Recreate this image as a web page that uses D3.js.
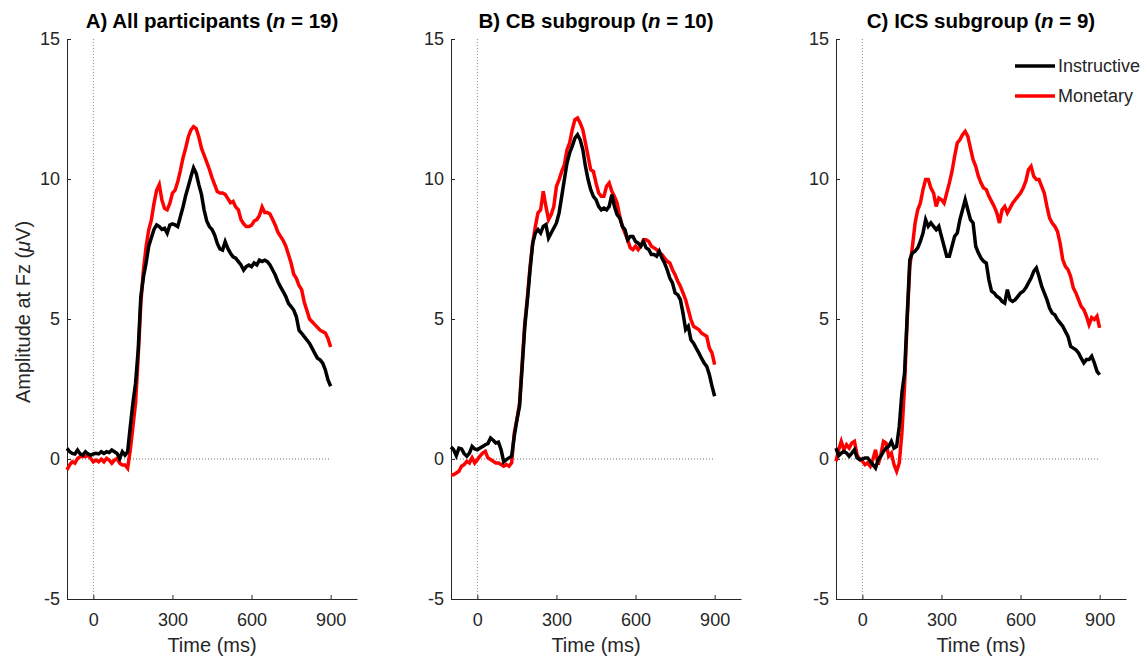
<!DOCTYPE html>
<html>
<head>
<meta charset="utf-8">
<script src="https://cdn.jsdelivr.net/npm/d3@7"></script>
<style>
  body { margin: 0; background: #fff; }
  svg { display: block; }
  text { font-family: "Liberation Sans", Arial, Helvetica, sans-serif; }
</style>
</head>
<body>
<div id="chart"></div>
<script>
// sample grid (ms), one value every 10 ms
const sampleTimes = d3.range(-100, 901, 10);

// A) all participants
const instrA = [
  0.38, 0.26, 0.20, 0.18, 0.32, 0.18, 0.14, 0.26, 0.18, 0.14,
  0.18, 0.20, 0.18, 0.26, 0.20, 0.26, 0.23, 0.32, 0.26, 0.20,
  0.02, 0.26, 0.14, 0.26, 1.15, 2.0, 2.7, 3.9, 5.8, 6.5,
  7.0, 7.6, 7.9, 8.2, 8.36, 8.3, 8.2, 8.24, 8.06, 8.36,
  8.4, 8.36, 8.3, 8.65, 9.0, 9.4, 9.73, 10.08, 10.4, 10.2,
  9.8, 9.45, 8.9, 8.5, 8.3, 8.2, 8.0, 7.7, 7.5, 7.46,
  7.76, 7.52, 7.35, 7.22, 7.17, 7.05, 6.93, 6.75, 6.87, 6.93,
  6.87, 7.0, 6.93, 7.1, 7.05, 7.1, 7.05, 6.93, 6.75, 6.57,
  6.33, 6.15, 5.98, 5.8, 5.56, 5.44, 5.32, 5.08, 4.6, 4.49,
  4.37, 4.25, 4.13, 3.95, 3.77, 3.6, 3.54, 3.42, 3.18, 2.82,
  2.6
];
const monA = [
  -0.39, -0.21, -0.10, -0.15, 0.02, 0.08, 0.10, 0.08, 0.14, 0.02,
  -0.10, -0.04, -0.10, -0.01, -0.10, 0.02, -0.04, -0.15, -0.04, 0.02,
  -0.15, -0.21, -0.21, -0.33, 0.32, 1.15, 2.0, 3.65, 5.56, 6.75,
  7.58, 8.18, 8.54, 9.13, 9.6, 9.8, 9.25, 8.95, 8.9, 9.13,
  9.5, 9.6, 9.9, 10.3, 10.75, 11.1, 11.5, 11.75, 11.87, 11.8,
  11.5, 11.1, 10.85, 10.6, 10.35, 10.05, 9.8, 9.55, 9.5, 9.5,
  9.45, 9.3, 9.15, 9.2, 9.0, 8.9, 8.55, 8.4, 8.3, 8.3,
  8.35, 8.5, 8.55, 8.7, 9.0, 8.8, 8.8, 8.75, 8.55, 8.35,
  8.1, 7.95, 7.8, 7.6, 7.3, 7.0, 6.6, 6.45, 6.2, 6.05,
  5.6, 5.3, 5.0, 4.9, 4.8, 4.7, 4.6, 4.55, 4.5, 4.3,
  4.0
];

// B) CB subgroup
const instrB = [
  0.43, 0.33, 0.12, 0.39, 0.36, 0.19, 0.10, 0.21, 0.45, 0.36,
  0.33, 0.39, 0.45, 0.51, 0.55, 0.75, 0.67, 0.57, 0.60, 0.33,
  -0.10, -0.02, 0.04, 0.10, 0.81, 1.4, 1.88, 3.3, 4.74, 5.69,
  6.76, 7.71, 8.07, 8.19, 8.07, 8.31, 8.37, 7.89, 8.07, 8.25,
  8.43, 8.79, 9.38, 9.98, 10.57, 10.93, 11.17, 11.46, 11.58, 11.4,
  11.05, 10.45, 9.98, 9.62, 9.38, 9.26, 9.02, 8.9, 8.96, 8.9,
  9.02, 9.44, 9.02, 8.73, 8.61, 8.31, 8.19, 7.83, 7.95, 7.95,
  7.77, 7.71, 7.6, 7.77, 7.54, 7.48, 7.3, 7.3, 7.24, 7.42,
  7.18, 7.0, 6.76, 6.46, 6.29, 5.93, 5.87, 5.69, 5.21, 4.62,
  4.74, 4.26, 4.14, 3.96, 3.79, 3.6, 3.43, 3.31, 3.01, 2.6,
  2.24
];
const monB = [
  -0.56, -0.56, -0.50, -0.44, -0.26, -0.20, -0.08, -0.14, 0.04, -0.14,
  -0.02, 0.10, 0.21, 0.27, 0.04, -0.02, -0.08, -0.14, -0.14, -0.20,
  -0.26, -0.20, -0.26, -0.14, 0.93, 1.4, 2.0, 3.43, 4.86, 5.8,
  6.88, 7.71, 8.31, 8.79, 8.9, 9.56, 9.02, 8.55, 8.73, 9.02,
  9.74, 9.98, 10.27, 10.51, 11.05, 11.29, 11.76, 12.12, 12.18, 12.0,
  11.76, 11.29, 10.81, 10.33, 10.27, 9.86, 9.5, 9.38, 9.38, 9.74,
  9.86, 9.56, 9.38, 9.14, 8.67, 8.31, 8.07, 7.83, 7.54, 7.48,
  7.6, 7.48, 7.6, 7.83, 7.83, 7.77, 7.6, 7.54, 7.48, 7.36,
  7.3, 7.18, 7.06, 7.0, 6.76, 6.58, 6.35, 6.17, 5.93, 5.69,
  5.33, 4.98, 4.74, 4.68, 4.62, 4.5, 4.44, 4.38, 3.96, 3.79,
  3.37
];

// C) ICS subgroup
const instrC = [
  0.39, 0.12, 0.21, 0.27, 0.21, 0.10, 0.21, 0.33, 0.04, -0.02,
  0.0, 0.04, 0.04, -0.08, -0.20, -0.32, -0.02, 0.10, 0.27, 0.39,
  0.45, 0.63, 0.39, 0.45, 1.17, 2.36, 3.07, 5.1, 7.12, 7.36,
  7.42, 7.54, 7.77, 8.07, 8.55, 8.31, 8.43, 8.31, 8.19, 8.31,
  7.95, 7.6, 7.24, 7.24, 7.6, 7.95, 8.07, 8.55, 8.9, 9.26,
  8.9, 8.55, 8.43, 7.6, 7.36, 7.18, 7.06, 7.0, 6.4, 5.99,
  5.93, 5.81, 5.75, 5.63, 5.57, 6.05, 5.69, 5.63, 5.69, 5.81,
  5.93, 5.99, 6.11, 6.29, 6.46, 6.7, 6.82, 6.52, 6.17, 5.93,
  5.69, 5.39, 5.21, 5.15, 4.98, 4.86, 4.74, 4.56, 4.38, 4.02,
  3.96, 3.9, 3.79, 3.6, 3.43, 3.55, 3.55, 3.67, 3.43, 3.13,
  3.01
];
const monC = [
  -0.08, 0.33, 0.63, 0.33, 0.51, 0.39, 0.57, 0.63, 0.15, -0.02,
  -0.08, -0.20, -0.14, -0.26, -0.02, 0.33, -0.20, 0.15, 0.63, 0.57,
  0.10, 0.21, -0.20, -0.44, -0.14, 0.93, 2.6, 4.98, 6.88, 7.6,
  8.43, 8.9, 9.14, 9.62, 9.98, 9.98, 9.68, 9.5, 9.02, 9.32,
  9.26, 9.14, 9.5, 9.86, 10.27, 10.81, 11.29, 11.4, 11.58, 11.7,
  11.52, 11.1, 10.69, 10.45, 10.1, 9.86, 9.68, 9.62, 9.38, 9.2,
  9.02, 8.79, 8.43, 8.9, 9.02, 8.79, 8.96, 9.14, 9.26, 9.38,
  9.5, 9.68, 9.92, 10.33, 10.45, 10.1, 9.98, 9.98, 9.74, 9.5,
  9.02, 8.61, 8.43, 8.31, 8.13, 7.71, 7.12, 6.88, 6.76, 6.52,
  6.11, 5.93, 5.69, 5.45, 5.33, 5.1, 4.8, 5.05, 4.98, 5.1,
  4.68
];

const panelTitles = ['A) All participants', 'B) CB subgroup', 'C) ICS subgroup'];
const panelN = [19, 10, 9];
const instructive = [instrA, instrB, instrC];
const monetary = [monA, monB, monC];
const xTicks = [0, 300, 600, 900];
const yTicks = [-5, 0, 5, 10, 15];
const conditions = ['Instructive', 'Monetary'];

const width = 1142;
const height = 656;
const panelLeft = [67, 451, 836];
const panelTop = 39;
const pw = 290;
const ph = 560;
const axisColor = '#262626';

const color = d3.scaleOrdinal().domain(conditions).range(['#000000', '#ff0000']);

const x = d3.scaleLinear().domain([-100, 1000]).range([0, pw]);
const y = d3.scaleLinear().domain([-5, 15]).range([ph, 0]);

const line = d3.line()
    .x((d, i) => x(sampleTimes[i]))
    .y(d => y(d));

const svg = d3.select('#chart').append('svg')
    .attr('width', width)
    .attr('height', height);

panelTitles.forEach((title, p) => {
    const g = svg.append('g')
        .attr('transform', `translate(${[panelLeft[p], panelTop]})`);

    // dotted reference lines at t = 0 and 0 uV
    g.append('line')
        .attr('x1', x(0)).attr('x2', x(0))
        .attr('y1', y(15)).attr('y2', y(-5))
        .attr('stroke', '#8c8c8c')
        .attr('stroke-dasharray', '1,2');
    g.append('line')
        .attr('x1', x(-100)).attr('x2', x(900))
        .attr('y1', y(0)).attr('y2', y(0))
        .attr('stroke', '#6e6e6e')
        .attr('stroke-dasharray', '1,2');

    // axes (MATLAB style, ticks inside, no box)
    const yAxis = g.append('g')
        .call(d3.axisLeft(y).tickValues(yTicks).tickFormat(d => String(d))
            .tickSizeInner(-4).tickSizeOuter(0).tickPadding(7));
    const xAxis = g.append('g')
        .attr('transform', `translate(0,${ph})`)
        .call(d3.axisBottom(x).tickValues(xTicks).tickFormat(d => String(d))
            .tickSizeInner(-4).tickSizeOuter(0).tickPadding(14));

    [yAxis, xAxis].forEach(ax => {
        ax.select('.domain').attr('stroke', axisColor);
        ax.selectAll('.tick line').attr('stroke', axisColor);
        ax.selectAll('.tick text')
            .attr('font-size', 18)
            .attr('font-family', '"Liberation Sans", Arial, sans-serif')
            .attr('fill', axisColor);
    });

    // waveforms
    g.append('path')
        .datum(monetary[p])
        .attr('d', line)
        .attr('fill', 'none')
        .attr('stroke', color('Monetary'))
        .attr('stroke-width', 3.5);
    g.append('path')
        .datum(instructive[p])
        .attr('d', line)
        .attr('fill', 'none')
        .attr('stroke', color('Instructive'))
        .attr('stroke-width', 3.5);

    // title
    const t = g.append('text')
        .attr('x', pw / 2)
        .attr('y', -11)
        .attr('text-anchor', 'middle')
        .attr('font-size', 20.5)
        .attr('font-weight', 'bold')
        .attr('fill', '#000');
    t.append('tspan').text(title + ' (');
    t.append('tspan').attr('font-style', 'italic').text('n');
    t.append('tspan').text(' = ' + panelN[p] + ')');

    // x label
    g.append('text')
        .attr('x', pw / 2)
        .attr('y', ph + 53)
        .attr('text-anchor', 'middle')
        .attr('font-size', 20)
        .attr('fill', axisColor)
        .text('Time (ms)');
});

// y label on first panel
const yl = svg.append('text')
    .attr('transform', `translate(29.5,${panelTop + 273}) rotate(-90)`)
    .attr('text-anchor', 'middle')
    .attr('font-size', 20)
    .attr('fill', axisColor);
yl.append('tspan').text('Amplitude at Fz (');
yl.append('tspan').attr('font-style', 'italic').text('\u03BC');
yl.append('tspan').text('V)');

// legend in panel C
const legend = svg.append('g')
    .attr('transform', `translate(${panelLeft[2]},${panelTop})`);
conditions.forEach((c, i) => {
    const ly = 27 + i * 30;
    legend.append('line')
        .attr('x1', 179).attr('x2', 219)
        .attr('y1', ly).attr('y2', ly)
        .attr('stroke', color(c))
        .attr('stroke-width', 3.5);
    legend.append('text')
        .attr('x', 222)
        .attr('y', ly)
        .attr('dy', '0.35em')
        .attr('font-size', 18)
        .attr('fill', axisColor)
        .text(c);
});
</script>
</body>
</html>
